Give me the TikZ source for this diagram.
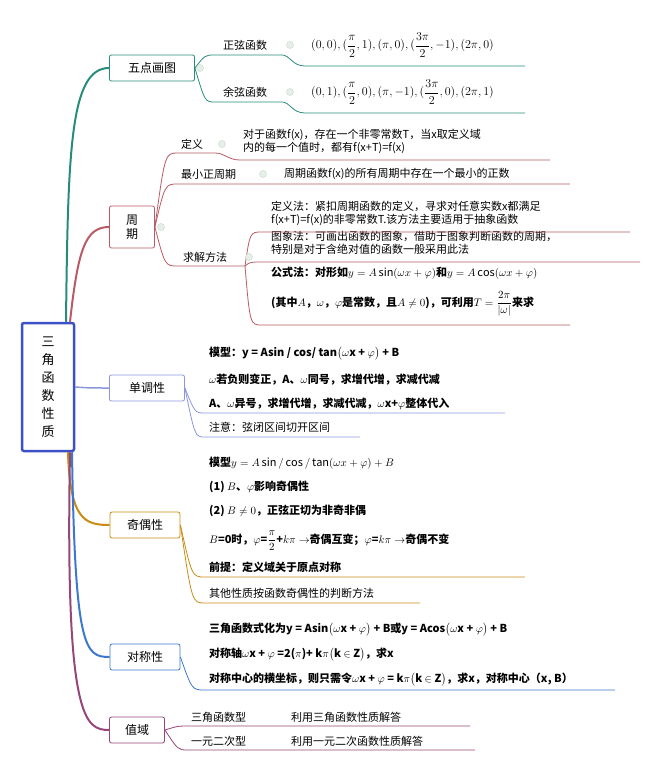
\documentclass[tikz,border=0pt]{standalone}
\usepackage{fontspec}
\usepackage{amsmath}
\setmainfont{Noto Sans CJK SC}
\usetikzlibrary{positioning}
\definecolor{cteal}{RGB}{40,140,125}
\definecolor{cred}{RGB}{185,90,100}
\definecolor{croot}{RGB}{60,80,200}
\definecolor{cgold}{RGB}{200,140,20}
\definecolor{cblue}{RGB}{60,120,205}
\definecolor{cpurp}{RGB}{150,70,120}
\tikzset{
  topic/.style={draw, rounded corners=2pt, thick, fill=white, minimum height=26pt, inner sep=4pt, font=\fontsize{12}{14}\selectfont},
  leaf/.style={anchor=west, inner sep=1pt, font=\fontsize{11}{13}\selectfont, align=left},
  bleaf/.style={leaf, font=\fontsize{11}{13}\selectfont\bfseries},
  knob/.style={circle, draw=green!30!gray!40, fill=green!10!gray!15, inner sep=0pt, minimum size=7pt},
}
\begin{document}
\begin{tikzpicture}[x=1pt, y=-1pt]
	\useasboundingbox (0,0) rectangle (650,773);
	% Hauptast
	\node[draw=croot, line width=2.5pt, rounded corners=2pt, minimum width=52pt, minimum height=128pt, align=center, font=\fontsize{13}{18}\selectfont] (root) at (48,387) {三\\角\\函\\数\\性\\质};
	\node[topic, draw=cteal, minimum width=85pt] (five) at (152,68) {五点画图};
	\node[topic, draw=cred, align=center, minimum height=42pt, minimum width=45pt] (period) at (132,227) {周\\期};
	\node[topic, draw=croot!60, minimum width=75pt] (mono) at (147,388) {单调性};
	\node[topic, draw=cgold, minimum width=70pt] (parity) at (145,525) {奇偶性};
	\node[topic, draw=cblue, minimum width=70pt] (sym) at (145,657) {对称性};
	\node[topic, draw=cpurp, minimum width=55pt] (range) at (137,730) {值域};
	% Aeste
	\draw[cteal, line width=2pt] (root.north) ++(18,0) .. controls (68,150) and (70,68) .. (five.west);
	\draw[cred, line width=2pt] (root.north) ++(22,0) .. controls (78,250) and (85,227) .. (period.west);
	\draw[croot!60, line width=1.5pt] (root.east) .. controls (90,388) .. (mono.west);
	\draw[cgold, line width=2pt] (root.south) ++(20,0) .. controls (70,520) and (85,525) .. (parity.west);
	\draw[cblue, line width=2pt] (root.south) ++(24,0) .. controls (75,650) and (85,657) .. (sym.west);
	\draw[cpurp, line width=2pt] (root.south) ++(22,0) .. controls (65,720) and (85,730) .. (range.west);

	% Fuenf Punkte
	\node[leaf] (sin) at (222,45) {正弦函数};
	\node[leaf] (cos) at (222,92) {余弦函数};
	\node[leaf, font=\fontsize{12}{13}\selectfont] (sinv) at (310,45) {$(0,0),(\dfrac{\pi}{2},1),(\pi,0),(\dfrac{3\pi}{2},-1),(2\pi,0)$};
	\node[leaf, font=\fontsize{12}{13}\selectfont] (cosv) at (310,92) {$(0,1),(\dfrac{\pi}{2},0),(\pi,-1),(\dfrac{3\pi}{2},0),(2\pi,1)$};
	\draw[cteal, thick] (five.east) .. controls (205,55) .. (215,55) -- (282,55) .. controls (290,55) and (292,66) .. (305,66) -- (525,66);
	\draw[cteal, thick] (five.east) .. controls (205,102) .. (215,102) -- (282,102) .. controls (290,102) and (292,113) .. (305,113) -- (525,113);
	\node[knob] at (200,68) {};
	\node[knob] at (290,45) {};
	\node[knob] at (290,92) {};

	% Periode
	\node[leaf] (def) at (180,144) {定义};
	\node[leaf] (deft) at (242,141) {对于函数f(x)，存在一个非零常数T，当x取定义域\\内的每一个值时，都有f(x+T)=f(x)};
	\node[leaf] (minp) at (180,174) {最小正周期};
	\node[leaf] (minpt) at (283,174) {周期函数f(x)的所有周期中存在一个最小的正数};
	\node[leaf] (meth) at (182,257) {求解方法};
	\node[leaf] (m1) at (270,213) {定义法：紧扣周期函数的定义，寻求对任意实数x都满足\\f(x+T)=f(x)的非零常数T.该方法主要适用于抽象函数};
	\node[leaf] (m2) at (270,243) {图象法：可画出函数的图象，借助于图象判断函数的周期，\\特别是对于含绝对值的函数一般采用此法};
	\node[bleaf] (m3) at (270,273) {公式法：对形如$y=A\sin(\omega x+\varphi)$和$y=A\cos(\omega x+\varphi)$};
	\node[bleaf] (m4) at (270,304) {(其中$A$，$\omega$，$\varphi$是常数，且$A\neq0$)，可利用$T=\dfrac{2\pi}{|\omega|}$来求};
	\draw[cred, thick] (period.east) .. controls (165,153) .. (178,153) -- (215,153) .. controls (225,153) and (228,160) .. (240,160) -- (550,160);
	\draw[cred, thick] (period.east) .. controls (165,184) .. (178,184) -- (255,184) .. controls (265,184) .. (280,184) -- (570,184);
	\draw[cred, thick] (period.east) .. controls (165,266) .. (178,266) -- (245,266);
	\draw[cred, thick] (245,266) .. controls (250,232) .. (262,232) -- (630,232);
	\draw[cred, thick] (245,266) .. controls (250,262) .. (262,262) -- (640,262);
	\draw[cred, thick] (245,266) .. controls (250,325) .. (262,325) -- (570,325);
	\node[knob] at (161,227) {};
	\node[knob] at (222,144) {};
	\node[knob] at (263,174) {};
	\node[knob] at (249,257) {};

	% Monotonie
	\node[bleaf] (mo1) at (208,354) {模型：y = Asin / cos/ tan$\bigl(\omega$x + $\varphi\bigr)$ + B};
	\node[bleaf] (mo2) at (208,380) {$\omega$若负则变正，A、$\omega$同号，求增代增，求减代减};
	\node[bleaf] (mo3) at (208,404) {A、$\omega$异号，求增代增，求减代减，$\omega$x+$\varphi$整体代入};
	\node[leaf] (mo4) at (208,427) {注意：弦闭区间切开区间};
	\draw[croot!60, thick] (mono.east) .. controls (195,413) .. (205,413) -- (505,413);
	\draw[croot!60, thick] (mono.east) .. controls (195,437) .. (205,437) -- (360,437);

	% Paritaet
	\node[bleaf] (pa1) at (208,463) {模型$y=A\sin/\cos/\tan(\omega x+\varphi)+B$};
	\node[bleaf] (pa2) at (208,487) {(1) $B$、$\varphi$影响奇偶性};
	\node[bleaf] (pa3) at (208,511) {(2) $B\neq0$，正弦正切为非奇非偶};
	\node[bleaf] (pa4) at (208,541) {$B$=0时，$\varphi$=$\dfrac{\pi}{2}$+$k\pi\rightarrow$奇偶互变；$\varphi$=$k\pi\rightarrow$奇偶不变};
	\node[bleaf] (pa5) at (208,567) {前提：定义域关于原点对称};
	\node[leaf] (pa6) at (208,593) {其他性质按函数奇偶性的判断方法};
	\draw[cgold, thick] (parity.east) .. controls (192,577) .. (205,577) -- (525,577);
	\draw[cgold, thick] (parity.east) .. controls (192,603) .. (205,603) -- (420,603);

	% Symmetrie
	\node[bleaf] (sy1) at (208,630) {三角函数式化为y = Asin$\bigl(\omega$x + $\varphi\bigr)$ + B或y = Acos$\bigl(\omega$x + $\varphi\bigr)$ + B};
	\node[bleaf] (sy2) at (208,655) {对称轴$\omega$x + $\varphi$ =2($\pi$)+ k$\pi\bigl($k $\in$ Z$\bigr)$，求x};
	\node[bleaf] (sy3) at (208,680) {对称中心的横坐标，则只需令$\omega$x + $\varphi$ = k$\pi\bigl($k $\in$ Z$\bigr)$，求x，对称中心（x, B）};
	\draw[cblue, thick] (sym.east) .. controls (192,690) .. (205,690) -- (615,690);

	% Wertebereich
	\node[leaf] (ra1) at (190,717) {三角函数型};
	\node[leaf] (ra1t) at (290,717) {利用三角函数性质解答};
	\node[leaf] (ra2) at (190,741) {一元二次型};
	\node[leaf] (ra2t) at (290,741) {利用一元二次函数性质解答};
	\draw[cpurp, thick] (range.east) .. controls (178,726) .. (188,726) -- (470,726);
	\draw[cpurp, thick] (range.east) .. controls (178,750) .. (188,750) -- (475,750);
\end{tikzpicture}
\end{document}
